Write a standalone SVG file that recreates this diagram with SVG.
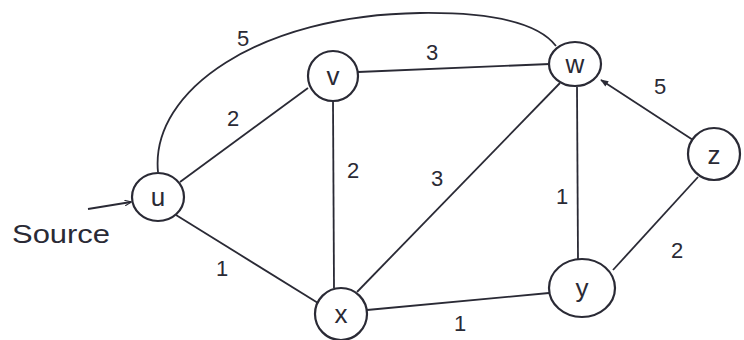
<svg xmlns="http://www.w3.org/2000/svg" width="744" height="340" viewBox="0 0 744 340">
<style>
.n{fill:none;stroke:#2a2a35;stroke-width:2.2}
.e{fill:none;stroke:#2a2a35;stroke-width:1.8}
.t{font-family:"Liberation Sans",Arial,sans-serif;fill:#2a2a35;text-anchor:middle}
.nl{font-size:26px}
.wl{font-size:22px}
</style>
<defs>
<marker id="ah" viewBox="0 0 10 10" refX="9" refY="5" markerWidth="7" markerHeight="7" orient="auto" markerUnits="userSpaceOnUse">
<path d="M0 1 L10 5 L0 9" fill="none" stroke="#2a2a35" stroke-width="1.6"/>
</marker>
<marker id="fh" viewBox="0 0 10 10" refX="9" refY="5" markerWidth="12" markerHeight="8" orient="auto" markerUnits="userSpaceOnUse">
<path d="M0 1 L10 5 L0 9 z" fill="#2a2a35"/>
</marker>
</defs>
<rect width="744" height="340" fill="#ffffff"/>
<g id="connectors">
<path class="e" d="M158 172 C150 90 260 15 420 13 C500 12 540 25 556 46"/>
<line class="e" x1="180" y1="182" x2="308" y2="88"/>
<line class="e" x1="358" y1="72" x2="550" y2="64"/>
<line class="e" x1="333" y1="101" x2="334" y2="288"/>
<line class="e" x1="357" y1="292" x2="560" y2="83"/>
<line class="e" x1="577" y1="87" x2="578" y2="259"/>
<line class="e" x1="693" y1="140" x2="601" y2="80" marker-end="url(#fh)"/>
<line class="e" x1="698" y1="177" x2="613" y2="270"/>
<line class="e" x1="176" y1="215" x2="318" y2="303"/>
<line class="e" x1="367" y1="310" x2="549" y2="293"/>
<line class="e" x1="88" y1="209" x2="131" y2="202" marker-end="url(#ah)"/>
<text class="t wl" x="243" y="46">5</text>
<text class="t wl" x="233" y="126">2</text>
<text class="t wl" x="432" y="60">3</text>
<text class="t wl" x="353" y="178">2</text>
<text class="t wl" x="437" y="186">3</text>
<text class="t wl" x="562" y="204">1</text>
<text class="t wl" x="660" y="94">5</text>
<text class="t wl" x="677" y="258">2</text>
<text class="t wl" x="222" y="276">1</text>
<text class="t wl" x="460" y="331">1</text>
<text class="t" x="61" y="243" style="font-size:26px" textLength="98" lengthAdjust="spacingAndGlyphs">Source</text>
</g>
<g id="u"><ellipse class="n" cx="158" cy="197" rx="26" ry="24"/><text class="t nl" x="158" y="206">u</text></g>
<g id="v"><ellipse class="n" cx="333" cy="76" rx="25" ry="25"/><text class="t nl" x="333" y="85">v</text></g>
<g id="w"><ellipse class="n" cx="575" cy="64" rx="26" ry="22"/><text class="t nl" x="575" y="73">w</text></g>
<g id="z"><ellipse class="n" cx="714" cy="154" rx="26" ry="26"/><text class="t nl" x="714" y="164">z</text></g>
<g id="x"><ellipse class="n" cx="341" cy="314" rx="26" ry="26"/><text class="t nl" x="341" y="323">x</text></g>
<g id="y"><ellipse class="n" cx="582" cy="288" rx="33" ry="29"/><text class="t nl" x="582" y="297">y</text></g>
</svg>
